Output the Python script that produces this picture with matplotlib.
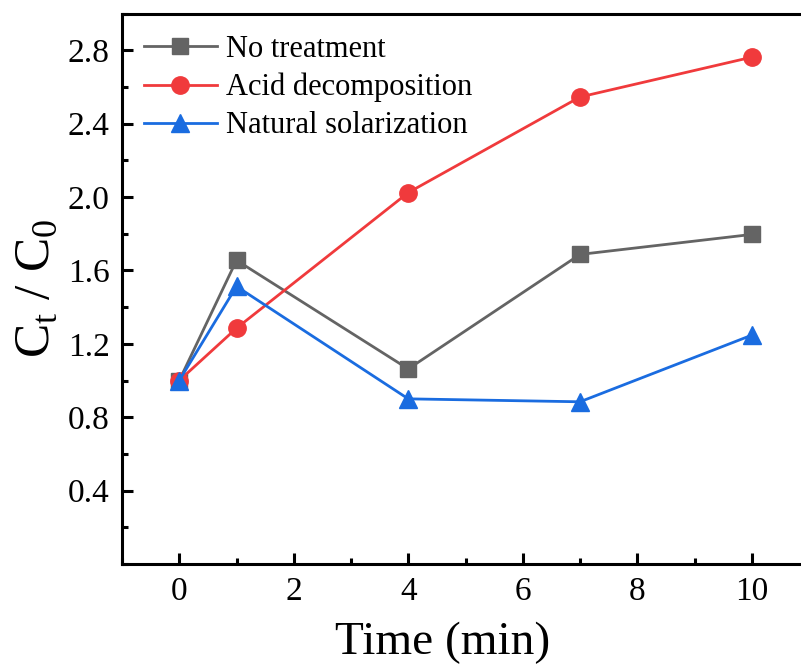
import matplotlib
matplotlib.use("Agg")
import matplotlib.pyplot as plt
from matplotlib.ticker import MultipleLocator

plt.rcParams['font.family'] = ['Liberation Serif', 'DejaVu Serif']
plt.rcParams['mathtext.fontset'] = 'custom'
plt.rcParams['mathtext.rm'] = 'Liberation Serif'

time = [0, 1, 4, 7, 10]
no_treatment = [1.0, 1.655, 1.063, 1.687, 1.796]
acid = [1.0, 1.285, 2.024, 2.545, 2.762]
natural = [1.0, 1.513, 0.900, 0.884, 1.247]

series = [
    ("No treatment", no_treatment, "#646464", "s", 11),
    ("Acid decomposition", acid, "#f03a3c", "o", 12.5),
    ("Natural solarization", natural, "#1a6ce0", "^", 13),
]

fig = plt.figure(figsize=(8.01, 6.64), dpi=100)
# axes box runs past the right edge, as in the cropped original
ax = fig.add_axes([122 / 801, 100 / 664, (809 - 122) / 801, (564 - 13.5) / 664])

for name, vals, col, mk, ms in series:
    ax.plot(time, vals, color=col, marker=mk, markersize=ms, linewidth=2.0,
            label=name)

ax.set_xlim(-1, 11)
ax.set_ylim(0, 3.0)
ax.set_xticks([0, 2, 4, 6, 8, 10])
ax.set_yticks([0.4, 0.8, 1.2, 1.6, 2.0, 2.4, 2.8])
ax.set_yticklabels(["0.4", "0.8", "1.2", "1.6", "2.0", "2.4", "2.8"])
ax.xaxis.set_minor_locator(MultipleLocator(1))
ax.yaxis.set_minor_locator(MultipleLocator(0.2))
ax.tick_params(which='major', direction='in', length=8, width=2.2,
               labelsize=24, pad=9, top=False, right=False)
ax.tick_params(which='minor', direction='in', length=4, width=2.2,
               top=False, right=False)
for s in ax.spines.values():
    s.set_linewidth(2.2)

ax.set_xlabel("Time (min)", fontsize=34)
ax.xaxis.set_label_coords(0.467, -0.104)
ax.xaxis.label.set_verticalalignment('top')
ax.set_ylabel(r"C$_\mathregular{t}$ / C$_\mathregular{0}$", fontsize=37, labelpad=6)

ax.legend(loc='upper left', frameon=False, fontsize=22, handlelength=2.4,
          handletextpad=0.3, labelspacing=0.3, borderaxespad=0.2,
          bbox_to_anchor=(0.005, 0.995))

fig.savefig("out.png", dpi=100)
